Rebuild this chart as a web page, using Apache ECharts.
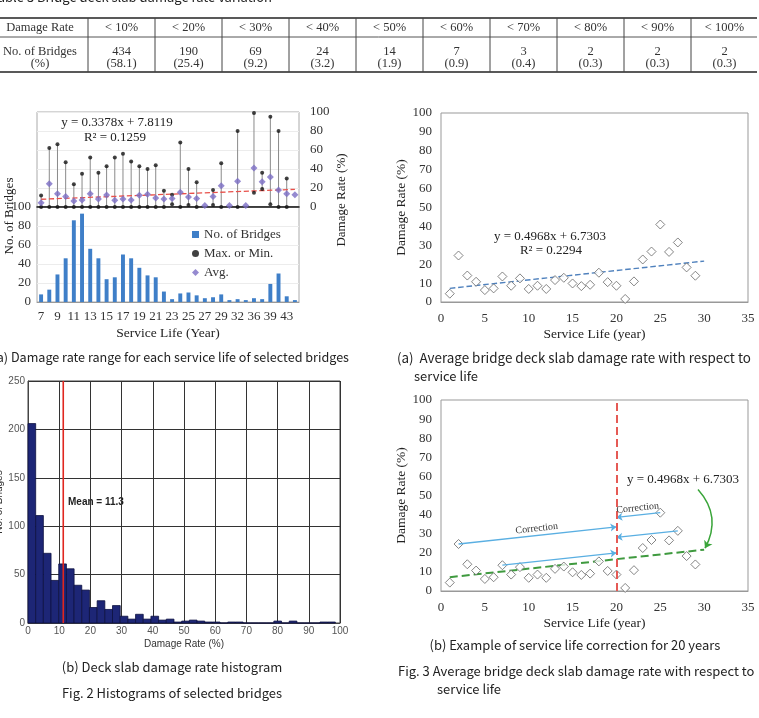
<!DOCTYPE html>
<html>
<head>
<meta charset="utf-8">
<script src="https://cdn.jsdelivr.net/npm/echarts@6.0.0/dist/echarts.min.js"></script>
<style>
html, body { margin: 0; padding: 0; background: #fff; }
#main { width: 759px; height: 718px; }
</style>
</head>
<body>
<div id="main"></div>
<script>
// ---- Table 3 ----
var rateClasses = ['< 10%', '< 20%', '< 30%', '< 40%', '< 50%', '< 60%', '< 70%', '< 80%', '< 90%', '< 100%'];
var classCounts = ['434', '190', '69', '24', '14', '7', '3', '2', '2', '2'];
var classShares = ['(58.1)', '(25.4)', '(9.2)', '(3.2)', '(1.9)', '(0.9)', '(0.4)', '(0.3)', '(0.3)', '(0.3)'];

// ---- Fig. 2 (a) ----
var serviceYears = ['7', '8', '9', '10', '11', '12', '13', '14', '15', '16', '17', '18', '19', '20', '21', '22',
  '23', '24', '25', '26', '27', '28', '29', '30', '32', '34', '36', '37', '39', '40', '43', '44'];
var bridgeCounts = [8, 13, 29, 46, 86, 93, 56, 46, 24, 26, 50, 46, 36, 28, 26, 11,
  3, 9, 10, 7, 4, 5, 8, 2, 3, 2, 4, 3, 19, 30, 6, 2];
var maxRate = [12, 62, 66, 47, 24, 35, 52, 36, 43, 52, 56, 48, 43, 40, 44, 17,
  13, 68, 40, 26, null, 18, 46, null, 80, null, 99, 36, 95, 80, 30, null];
var minRate = [0, 0, 0, 0, 0, 0, 0, 0, 0, 0, 0, 0, 0, 0, 0, 0,
  3, 0, 2, 0, null, 2, 0, null, 0, null, 15, 19, 3, 0, 0, null];
var avgRate = [4.5, 24.5, 14, 11, 6.3, 7.4, 14, 8.4, 12.6, 7, 8.4, 7.4, 12.3, 13.3, 9.5, 8.4,
  9, 15.5, 10.5, 9, 1.5, 11, 22.5, 1.5, 27, 1.5, 41, 26.7, 31.5, 18, 14, 13];
var trendA = { slope: 0.3378, intercept: 7.8119, r2: '0.1259' };

// ---- Fig. 2 (b) ----
var binWidth = 2.4625;
var histCounts = [206, 111, 72, 44, 61, 56, 39, 34, 16, 23, 14, 18, 7, 4, 9, 4, 7, 3, 4, 1,
  2, 3, 2, 1, 1, 0, 1, 1, 0, 0, 0, 0, 2, 0, 2, 0, 0, 0, 1, 1];
var meanRate = 11.3;

// ---- Fig. 3 ----
var lifeYears = [1, 2, 3, 4, 5, 6, 7, 8, 9, 10, 11, 12, 13, 14, 15, 16, 17, 18, 19, 20,
  21, 22, 23, 24, 25, 26, 27, 28, 29];
var avgDamage = [4.4, 24.6, 14, 10.7, 6.3, 7.2, 13.5, 8.6, 12.5, 6.9, 8.6, 6.9, 11.6, 12.8, 9.8, 8.4, 9.1, 15.5, 10.5, 8.6,
  1.6, 10.9, 22.5, 26.7, 41, 26.5, 31.5, 18.3, 13.9];
var trendB = { slope: 0.4968, intercept: 6.7303, r2: '0.2294', from: 1, to: 30 };
var correctYear = 20;
var correctedFrom = [2, 7, 25, 27];   // service life of the points moved to 20 years
var pointerArrow = [[29.3, 53.2], [30.1, 22.4]];   // curved arrow from the equation to the trend line

var serif = '"Liberation Serif", "Times New Roman", serif';
var sans = '"Noto Sans CJK KR", "Liberation Sans", sans-serif';

// derived series
var rangeData = [], extremeData = [];
serviceYears.forEach(function (y, i) {
  if (maxRate[i] != null) extremeData.push([i, maxRate[i]]);
  if (minRate[i] != null) extremeData.push([i, minRate[i]]);
  if (maxRate[i] != null && minRate[i] != null) rangeData.push([i, minRate[i], maxRate[i]]);
});
var lastIdx = serviceYears.length - 1;
var trendAData = [[0, trendA.slope * 1 + trendA.intercept], [lastIdx, trendA.slope * (lastIdx + 1) + trendA.intercept]];
var histData = histCounts.map(function (c, i) { return [i * binWidth, (i + 1) * binWidth, c]; });
var scatterData = lifeYears.map(function (x, i) { return [x, avgDamage[i]]; });
function trendB_at(x) { return trendB.slope * x + trendB.intercept; }
var trendBData = [[trendB.from, trendB_at(trendB.from)], [trendB.to, trendB_at(trendB.to)]];

var arrowLines = correctedFrom.map(function (x, k) {
  var y = avgDamage[lifeYears.indexOf(x)];
  var start = { coord: [x, y] };
  if (k === 0 || k === 2) {
    start.label = { show: true, position: 'middle', formatter: 'Correction', fontFamily: serif, fontSize: 10, color: '#333', distance: 2 };
  }
  return [start, { coord: [correctYear, y + trendB.slope * (correctYear - x)] }];
});

// table drawing
var tableEls = [];
var colEdges = [0, 88];
for (var c = 1; c <= rateClasses.length; c++) colEdges.push(88 + c * 67);
tableEls.push({ type: 'text', x: -9, y: 4, style: { text: 'Table 3 Bridge deck slab damage rate variation', font: '13px ' + sans, fill: '#222', verticalAlign: 'bottom' } });
[[18, 1.6, '#222'], [37, 1, '#555'], [72, 1.6, '#222']].forEach(function (h) {
  tableEls.push({ type: 'line', shape: { x1: 0, y1: h[0], x2: 757, y2: h[0] }, style: { stroke: h[2], lineWidth: h[1] } });
});
for (var e = 1; e < colEdges.length - 1; e++) {
  tableEls.push({ type: 'line', shape: { x1: colEdges[e], y1: 18, x2: colEdges[e], y2: 72 }, style: { stroke: '#444', lineWidth: 1 } });
}
function cell(txt, cx, cy) {
  tableEls.push({ type: 'text', x: cx, y: cy, style: { text: txt, font: '12.5px ' + serif, fill: '#333', align: 'center', verticalAlign: 'middle' } });
}
cell('Damage Rate', 40, 28);
cell('No. of Bridges', 40, 52);
cell('(%)', 40, 64);
rateClasses.forEach(function (r, i) {
  var cx = (colEdges[i + 1] + colEdges[i + 2]) / 2;
  cell(r, cx, 28);
  cell(classCounts[i], cx, 52);
  cell(classShares[i], cx, 64);
});

function txt(t, x, y, font, align, extra) {
  var el = { type: 'text', x: x, y: y, style: { text: t, font: font, fill: '#222', align: align || 'center', verticalAlign: 'middle' } };
  if (extra) Object.assign(el, extra);
  return el;
}

var otherEls = [
  // Fig 2(a)
  txt('y = 0.3378x + 7.8119', 117, 123, '13px ' + serif),
  txt('R\u00b2 = ' + trendA.r2, 115, 138, '13px ' + serif),
  txt('No. of Bridges', 10, 216, '13px ' + serif, 'center', { rotation: Math.PI / 2 }),
  txt('Damage Rate (%)', 342, 200, '13px ' + serif, 'center', { rotation: Math.PI / 2 }),
  txt('(a) Damage rate range for each service life of selected bridges', 349, 357, '12.6px ' + sans, 'right'),
  // Fig 2(b)
  txt('Mean = 11.3', 68, 502, 'bold 10px "Liberation Sans", sans-serif', 'left'),
  txt('(b) Deck slab damage rate histogram', 172, 667, '13px ' + sans),
  txt('Fig. 2 Histograms of selected bridges', 172, 693, '13px ' + sans),
  // Fig 3(a)
  txt('y = 0.4968x + 6.7303', 550, 237, '13px ' + serif),
  txt('R\u00b2 = ' + trendB.r2, 551, 251, '13px ' + serif),
  txt('(a)  Average bridge deck slab damage rate with respect to', 397, 358, '13.4px ' + sans, 'left'),
  txt('service life', 414, 376, '13px ' + sans, 'left'),
  // Fig 3(b)
  txt('y = 0.4968x + 6.7303', 683, 480, '13px ' + serif),
  txt('(b) Example of service life correction for 20 years', 575, 645, '13px ' + sans),
  txt('Fig. 3 Average bridge deck slab damage rate with respect to', 398, 671, '13px ' + sans, 'left'),
  txt('service life', 437, 689, '13px ' + sans, 'left')
];

var serifLabel = { fontFamily: serif, fontSize: 13, color: '#333' };
var nameStyle = { fontFamily: serif, fontSize: 13.5, color: '#222' };
var histLabel = { fontFamily: '"Liberation Sans", sans-serif', fontSize: 10, color: '#555' };

function gridBox(l, t, w, h, border) {
  return { left: l, top: t, width: w, height: h, show: true, borderColor: border, backgroundColor: 'transparent',
    outerBoundsMode: 'none', containLabel: false };
}

var chart = echarts.init(document.getElementById('main'));
chart.setOption({
  backgroundColor: '#fff',
  animation: false,
  grid: [
    gridBox(37, 112, 262, 95, '#aaa'),
    gridBox(37, 207, 262, 95, '#aaa'),
    gridBox(28, 381, 312, 242, '#444'),
    gridBox(441, 113, 307, 189, '#999'),
    gridBox(441, 400, 307, 191, '#999')
  ],
  legend: {
    data: [
      { name: 'No. of Bridges', icon: 'rect' },
      { name: 'Max. or Min.', icon: 'circle' },
      { name: 'Avg.', icon: 'diamond' }
    ],
    orient: 'vertical', left: 187, top: 223, itemWidth: 7, itemHeight: 7, itemGap: 6,
    textStyle: { fontFamily: serif, fontSize: 13, color: '#333' }
  },
  xAxis: [
    { gridIndex: 0, type: 'category', data: serviceYears, axisLabel: { show: false }, axisTick: { show: false },
      axisLine: { lineStyle: { color: '#111', width: 1.5 } } },
    { gridIndex: 1, type: 'category', data: serviceYears, axisTick: { show: false },
      axisLabel: Object.assign({ interval: 1, margin: 8 }, serifLabel),
      axisLine: { lineStyle: { color: '#999' } },
      name: 'Service Life (Year)', nameLocation: 'middle', nameGap: 24, nameTextStyle: nameStyle },
    { gridIndex: 2, type: 'value', min: 0, max: 100, interval: 10, axisTick: { show: false },
      axisLine: { lineStyle: { color: '#444' } }, axisLabel: Object.assign({ margin: 3 }, histLabel),
      splitLine: { lineStyle: { color: '#333' } },
      name: 'Damage Rate (%)', nameLocation: 'middle', nameGap: 16, nameTextStyle: { fontFamily: '"Liberation Sans", sans-serif', fontSize: 10, color: '#333' } },
    { gridIndex: 3, type: 'value', min: 0, max: 35, interval: 5, axisTick: { show: false },
      axisLine: { lineStyle: { color: '#999' } }, axisLabel: Object.assign({ margin: 10 }, serifLabel), splitLine: { show: false },
      name: 'Service Life (year)', nameLocation: 'middle', nameGap: 25, nameTextStyle: nameStyle },
    { gridIndex: 4, type: 'value', min: 0, max: 35, interval: 5, axisTick: { show: false },
      axisLine: { lineStyle: { color: '#999' } }, axisLabel: Object.assign({ margin: 10 }, serifLabel), splitLine: { show: false },
      name: 'Service Life (year)', nameLocation: 'middle', nameGap: 25, nameTextStyle: nameStyle }
  ],
  yAxis: [
    { gridIndex: 0, type: 'value', position: 'right', min: 0, max: 100, interval: 20, axisTick: { show: false },
      axisLine: { show: false }, axisLabel: Object.assign({ margin: 11 }, serifLabel),
      splitLine: { lineStyle: { color: '#ececec' } } },
    { gridIndex: 1, type: 'value', min: 0, max: 100, interval: 20, axisTick: { show: false },
      axisLine: { show: false }, axisLabel: Object.assign({ margin: 6 }, serifLabel),
      splitLine: { lineStyle: { color: '#ececec' } } },
    { gridIndex: 2, type: 'value', min: 0, max: 250, interval: 50, axisTick: { show: false },
      axisLine: { lineStyle: { color: '#444' } }, axisLabel: Object.assign({ margin: 3 }, histLabel),
      splitLine: { lineStyle: { color: '#333' } },
      name: 'No. of Bridges', nameLocation: 'middle', nameGap: 23, nameTextStyle: { fontFamily: '"Liberation Sans", sans-serif', fontSize: 10, color: '#333' } },
    { gridIndex: 3, type: 'value', min: 0, max: 100, interval: 10, axisTick: { show: false },
      axisLine: { show: false }, axisLabel: Object.assign({ margin: 9 }, serifLabel), splitLine: { show: false },
      name: 'Damage Rate (%)', nameLocation: 'middle', nameGap: 31, nameTextStyle: nameStyle },
    { gridIndex: 4, type: 'value', min: 0, max: 100, interval: 10, axisTick: { show: false },
      axisLine: { show: false }, axisLabel: Object.assign({ margin: 9 }, serifLabel), splitLine: { show: false },
      name: 'Damage Rate (%)', nameLocation: 'middle', nameGap: 31, nameTextStyle: nameStyle }
  ],
  series: [
    // Fig 2(a)
    { name: 'No. of Bridges', type: 'bar', xAxisIndex: 1, yAxisIndex: 1, data: bridgeCounts,
      barWidth: '48%', itemStyle: { color: '#3f7fc8' } },
    { name: 'range', type: 'custom', xAxisIndex: 0, yAxisIndex: 0, data: rangeData, encode: { x: 0, y: [1, 2] }, z: 1,
      renderItem: function (params, api) {
        var p1 = api.coord([api.value(0), api.value(1)]);
        var p2 = api.coord([api.value(0), api.value(2)]);
        return { type: 'line', shape: { x1: p1[0], y1: p1[1], x2: p2[0], y2: p2[1] }, style: { stroke: '#8a8a8a', lineWidth: 1 } };
      } },
    { name: 'Max. or Min.', type: 'scatter', xAxisIndex: 0, yAxisIndex: 0, data: extremeData,
      symbol: 'circle', symbolSize: 4, itemStyle: { color: '#111' }, z: 3 },
    { name: 'Avg.', type: 'scatter', xAxisIndex: 0, yAxisIndex: 0, data: avgRate,
      symbol: 'diamond', symbolSize: 7, itemStyle: { color: '#7b6dc4' }, z: 4 },
    { name: 'trendA', type: 'line', xAxisIndex: 0, yAxisIndex: 0, data: trendAData, symbol: 'none',
      lineStyle: { color: '#e8504a', type: 'dashed', width: 1.3 }, z: 2 },
    // Fig 2(b)
    { name: 'hist', type: 'custom', xAxisIndex: 2, yAxisIndex: 2, data: histData, encode: { x: [0, 1], y: 2 },
      renderItem: function (params, api) {
        var p0 = api.coord([api.value(0), api.value(2)]);
        var p1 = api.coord([api.value(1), 0]);
        return { type: 'rect', shape: { x: p0[0], y: p0[1], width: p1[0] - p0[0], height: p1[1] - p0[1] },
          style: { fill: '#1d2676', stroke: '#0c1040', lineWidth: 0.8 } };
      } },
    { name: 'mean', type: 'line', xAxisIndex: 2, yAxisIndex: 2, data: [[meanRate, 0], [meanRate, 250]], symbol: 'none',
      lineStyle: { color: '#e0261f', width: 1.6 }, z: 5 },
    // Fig 3(a)
    { name: 'avg3a', type: 'scatter', xAxisIndex: 3, yAxisIndex: 3, data: scatterData, symbol: 'diamond', symbolSize: 9,
      itemStyle: { color: '#fff', borderColor: '#666', borderWidth: 1 }, z: 4 },
    { name: 'trend3a', type: 'line', xAxisIndex: 3, yAxisIndex: 3, data: trendBData, symbol: 'none',
      lineStyle: { color: '#4f81bd', type: 'dashed', width: 1.4 } },
    // Fig 3(b)
    { name: 'avg3b', type: 'scatter', xAxisIndex: 4, yAxisIndex: 4, data: scatterData, symbol: 'diamond', symbolSize: 9,
      itemStyle: { color: '#fff', borderColor: '#666', borderWidth: 1 }, z: 4,
      markLine: { silent: true, symbol: ['none', 'arrow'], symbolSize: 6, animation: false,
        lineStyle: { color: '#5aafe2', width: 1.3, type: 'solid' }, label: { show: false },
        data: arrowLines } },
    { name: 'trend3b', type: 'line', xAxisIndex: 4, yAxisIndex: 4, data: trendBData, symbol: 'none',
      lineStyle: { color: '#3f9a3f', type: 'dashed', width: 2 },
      markLine: { silent: true, symbol: 'none', label: { show: false }, animation: false,
        lineStyle: { color: '#e55a55', type: 'dashed', width: 2 },
        data: [{ xAxis: correctYear }] } },
    { name: 'pointer', type: 'lines', coordinateSystem: 'cartesian2d', xAxisIndex: 4, yAxisIndex: 4,
      data: [{ coords: pointerArrow }], symbol: ['none', 'arrow'], symbolSize: 7, silent: true,
      lineStyle: { color: '#3aa53a', width: 1.5, curveness: 0.35, opacity: 1 }, z: 6 }
  ],
  graphic: { elements: tableEls.concat(otherEls) }
});
</script>
</body>
</html>
